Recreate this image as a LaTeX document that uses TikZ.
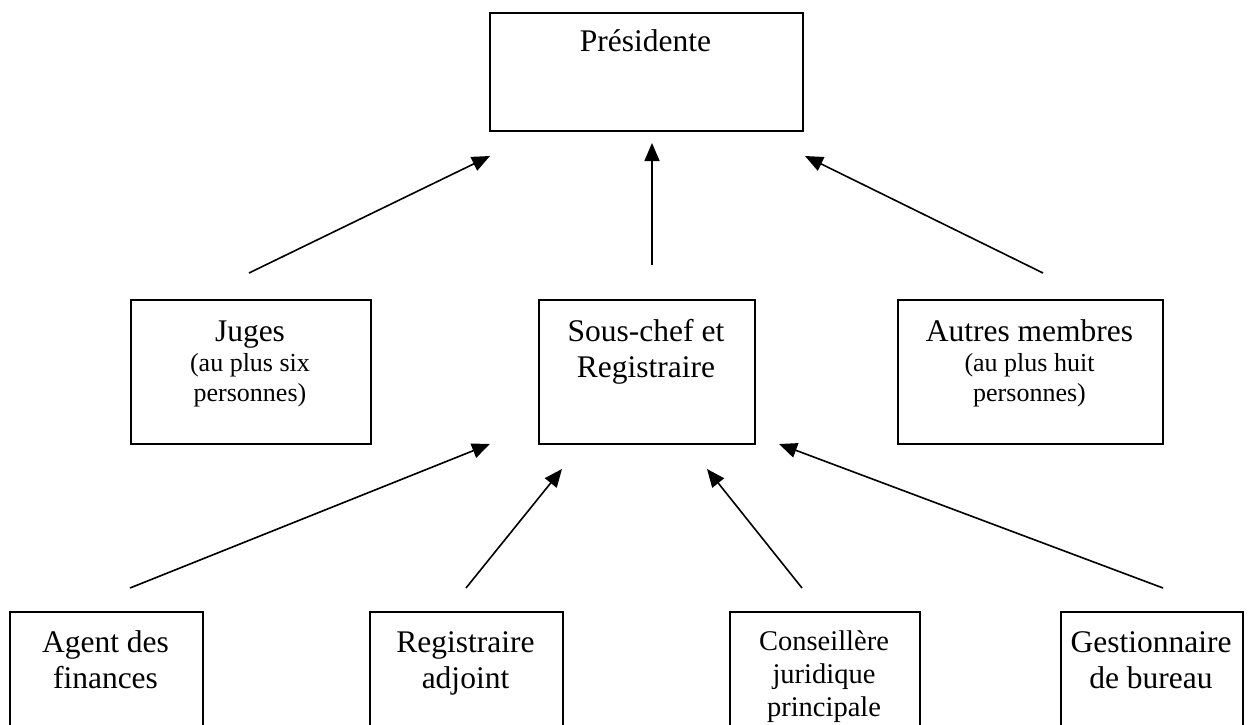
\documentclass[tikz,border=0pt]{standalone}
\usepackage{fontspec}
\setmainfont{Liberation Serif}
\usetikzlibrary{arrows.meta}
\begin{document}
\begin{tikzpicture}[x=1pt,y=-1pt,
  box/.style={draw, line width=1.8pt, inner sep=0pt, anchor=north west},
  lab/.style={anchor=base, inner sep=0pt, text width=#1, align=flush center,
              font=\fontsize{31.5}{36}\selectfont},
  labm/.style={anchor=base, inner sep=0pt, text width=#1, align=flush center,
              font=\fontsize{28.5}{33}\selectfont},
  arr/.style={line width=1.6pt, -{Triangle[length=18pt,width=15pt]}}]
\useasboundingbox (0,0) rectangle (1251,725);
\clip (0,0) rectangle (1251,725);
% boxes
\node[box, minimum width=313pt, minimum height=118pt] (pres) at (489,12) {};
\node[box, minimum width=240pt, minimum height=144pt] (juges) at (130,299) {};
\node[box, minimum width=216pt, minimum height=144pt] (sous) at (538,299) {};
\node[box, minimum width=265pt, minimum height=144pt] (autres) at (897,299) {};
\node[box, minimum width=193pt, minimum height=160pt] (agent) at (9,611) {};
\node[box, minimum width=193pt, minimum height=160pt] (regadj) at (369,611) {};
\node[box, minimum width=190pt, minimum height=160pt] (cons) at (729,611) {};
\node[box, minimum width=182pt, minimum height=160pt] (gest) at (1060,611) {};
% labels
\node[lab=300pt] (tpres) at (645.5,52) {Présidente};
\node[lab=230pt] (tjuges) at (250,341) {Juges\par
  {\fontsize{26}{30}\selectfont (au plus six\\personnes)\par}};
\node[lab=210pt] (tsous) at (646,341) {Sous-chef et\\Registraire};
\node[lab=260pt] (tautres) at (1029.5,341) {Autres membres\par
  {\fontsize{26}{30}\selectfont (au plus huit\\personnes)\par}};
\node[lab=190pt] (tagent) at (105.5,652) {Agent des\\finances};
\node[lab=190pt] (tregadj) at (465.5,652) {Registraire\\adjoint};
\node[labm=185pt] (tcons) at (824,650) {Conseillère\\juridique\\principale};
\node[lab=180pt] (tgest) at (1151,652) {Gestionnaire\\de bureau};
% connector end points
\coordinate (j1) at (249,273);  \coordinate (p1) at (490,156);
\coordinate (s1) at (652,265);  \coordinate (p2) at (652,143);
\coordinate (a1) at (1043,273); \coordinate (p3) at (805,156);
\coordinate (g1) at (130,588);  \coordinate (q1) at (490,444);
\coordinate (r1) at (466,588);  \coordinate (q2) at (562,469);
\coordinate (c1) at (802,588);  \coordinate (q3) at (707,469);
\coordinate (b1) at (1163,588); \coordinate (q4) at (779,444);
\draw[arr] (j1) -- (p1);
\draw[arr] (s1) -- (p2);
\draw[arr] (a1) -- (p3);
\draw[arr] (g1) -- (q1);
\draw[arr] (r1) -- (q2);
\draw[arr] (c1) -- (q3);
\draw[arr] (b1) -- (q4);
\end{tikzpicture}
\end{document}
